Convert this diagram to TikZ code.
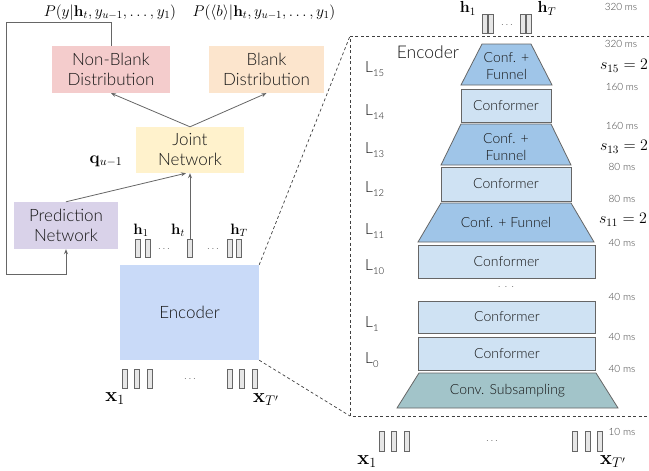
\RequirePackage{fix-cm}
\documentclass[tikz,border=0pt]{standalone}
\usepackage[no-math]{fontspec}
\setmainfont{Lato}[UprightFont=* Light]
\usetikzlibrary{arrows.meta, positioning, calc}
\definecolor{nonblankred}{HTML}{F4CCCC}
\definecolor{blankorange}{HTML}{FCE5CD}
\definecolor{jointyellow}{HTML}{FFF2CC}
\definecolor{predpurple}{HTML}{D9D2E9}
\definecolor{encblue}{HTML}{C9DAF8}
\definecolor{confblue}{HTML}{CFE2F3}
\definecolor{funnelblue}{HTML}{9FC5E8}
\definecolor{convteal}{HTML}{A2C4C9}
\definecolor{dark}{HTML}{151515}
\definecolor{edge}{HTML}{666666}
\definecolor{vecfill}{HTML}{E6E6E6}
\definecolor{mstext}{HTML}{3F3F3F}
% layer name with a lowered index, e.g. L_15
\newcommand{\layer}[1]{L\raisebox{-0.55ex}{\fontsize{9.5}{9.5}\selectfont #1}}

\begin{document}
\begin{tikzpicture}[
  x=1pt, y=-1pt,                               % one unit = one pixel, y grows downwards
  block/.style={rectangle, inner sep=0pt, text=dark, align=center,
                font=\fontsize{17}{20}\selectfont},
  conformer/.style={rectangle, draw=edge, line width=0.8pt, fill=confblue,
                    inner sep=0pt, text=dark, font=\fontsize{14}{16}\selectfont},
  funnel/.style={draw=edge, line width=0.8pt, fill=funnelblue},
  subsample/.style={draw=edge, line width=0.8pt, fill=convteal},
  blocktext/.style={inner sep=0pt, text=dark, align=center,
                    font=\fontsize{14}{16.5}\selectfont},
  vec/.style={rectangle, draw=edge, line width=0.6pt, fill=vecfill, inner sep=0pt,
              minimum width=5pt, minimum height=18pt},
  flow/.style={-{Stealth[length=5pt, width=4pt]}, draw=edge, line width=0.8pt},
  zoomline/.style={draw=black!75, line width=0.7pt, dash pattern=on 3pt off 2.5pt},
  mslabel/.style={text=mstext, inner sep=0pt, font=\fontsize{10}{12}\selectfont},
  layerlabel/.style={anchor=base west, text=dark, inner sep=0pt,
                     font=\fontsize{15.5}{18}\selectfont},
  mathlabel/.style={inner sep=0pt, font=\fontsize{15}{17}\selectfont},
  dotlabel/.style={inner sep=0pt, text=edge, font=\fontsize{10}{12}\selectfont}
]
  \useasboundingbox (0,0) rectangle (649,471);

  % --- transducer: output distributions, joint and prediction networks ---
  \node[block, fill=nonblankred, minimum width=118pt, minimum height=47pt] (nonblank)
    at (111,69.5) {Non-Blank\\Distribution};
  \node[block, fill=blankorange, minimum width=115pt, minimum height=47pt] (blank)
    at (266.5,69.5) {Blank\\Distribution};
  \node[block, fill=jointyellow, minimum width=108pt, minimum height=46pt] (joint)
    at (190,150) {Joint\\Network};
  \node[block, fill=predpurple, minimum width=104pt, minimum height=47pt] (pred)
    at (66,225.5) {Prediction\\Network};
  \node[block, fill=encblue, minimum width=139pt, minimum height=95pt] (encoder)
    at (189.5,312.5) {Encoder};

  \node[mathlabel, font=\fontsize{15.5}{18}\selectfont] (pnonblank) at (110,12.5)
    {$P(y|\mathbf{h}_t, y_{u-1}, \ldots, y_1)$};
  \node[mathlabel, font=\fontsize{15.5}{18}\selectfont] (pblank) at (264,12.5)
    {$P(\langle b\rangle|\mathbf{h}_t, y_{u-1}, \ldots, y_1)$};
  \node[mathlabel, font=\fontsize{17}{19}\selectfont] (qlabel) at (106,161) {$\mathbf{q}_{u-1}$};

  % encoder outputs h_1 .. h_T
  \node[vec] (h1a) at (137.5,248) {};
  \node[vec] (h1b) at (147.5,248) {};
  \node[vec] (ht)  at (190,248) {};
  \node[vec] (hTa) at (229.5,248) {};
  \node[vec] (hTb) at (238.5,248) {};
  \node[dotlabel] (hdotsl) at (164,249) {$\cdots$};
  \node[dotlabel] (hdotsr) at (213,249) {$\cdots$};
  \node[mathlabel] (h1lab) at (141,230) {$\mathbf{h}_1$};
  \node[mathlabel] (htlab) at (178,230) {$\mathbf{h}_t$};
  \node[mathlabel] (hTlab) at (239,230) {$\mathbf{h}_T$};

  % acoustic frames x_1 .. x_T'
  \node[vec, minimum height=19pt] (x1a) at (125,378.5) {};
  \node[vec, minimum height=19pt] (x1b) at (137,378.5) {};
  \node[vec, minimum height=19pt] (x1c) at (149.5,378.5) {};
  \node[vec, minimum height=19pt] (xTa) at (229.5,378.5) {};
  \node[vec, minimum height=19pt] (xTb) at (241.5,378.5) {};
  \node[vec, minimum height=19pt] (xTc) at (254.5,378.5) {};
  \node[dotlabel] (xdots) at (190,379) {$\cdots$};
  \node[mathlabel, font=\fontsize{20}{22}\selectfont] (x1lab) at (115,399) {$\mathbf{x}_1$};
  \node[mathlabel, font=\fontsize{20}{22}\selectfont] (xTlab) at (266,400) {$\mathbf{x}_{T'}$};

  % --- edges ---
  \draw[flow] (joint.north) -- (nonblank.south);
  \draw[flow] (joint.north) -- (blank.south);
  \draw[flow] (pred.north) -- ([xshift=-4pt]joint.south);
  \draw[flow] (ht.north) -- (joint.south);
  \coordinate (fbtop) at (6,22);
  \coordinate (fbbot) at (6,274);
  \draw[flow] (nonblank.north) |- (fbtop) -- (fbbot) -| (pred.south);

  % --- zoomed-in encoder stack ---
  \coordinate (boxnw) at (350,36);
  \coordinate (boxsw) at (350,416);
  \draw[zoomline] (655,36) -- (boxnw) -- (boxsw) -- (655,416);
  \draw[zoomline] (encoder.north east) -- (boxnw);
  \draw[zoomline] (encoder.south east) -- (boxsw);

  \node[text=dark, inner sep=0pt, font=\fontsize{17.5}{20}\selectfont] (enctitle) at (428,52) {Encoder};

  \draw[funnel] (482,44) -- (531,44) -- (552,85) -- (461,85) -- cycle;
  \node[blocktext] (l15) at (506.5,66) {Conf. +\\Funnel};
  \node[conformer, minimum width=90pt, minimum height=33pt] (l14) at (506,105.5) {Conformer};
  \draw[funnel] (461,124) -- (551,124) -- (571,165) -- (441,165) -- cycle;
  \node[blocktext] (l13) at (506,147) {Conf. +\\Funnel};
  \node[conformer, minimum width=130pt, minimum height=34pt] (l12) at (506,184) {Conformer};
  \draw[funnel] (441,203) -- (571,203) -- (594,242) -- (418,242) -- cycle;
  \node[blocktext] (l11) at (506,222.5) {Conf. + Funnel};
  \node[conformer, minimum width=177pt, minimum height=33pt] (l10) at (506.5,261.5) {Conformer};
  \node[dotlabel] (ldots) at (506,287) {$\cdot\,\cdot\,\cdot$};
  \node[conformer, minimum width=177pt, minimum height=32pt] (l1) at (507,317) {Conformer};
  \node[conformer, minimum width=177pt, minimum height=33pt] (l0) at (507,353.5) {Conformer};
  \draw[subsample] (419,373) -- (596,373) -- (618,408) -- (397,408) -- cycle;
  \node[blocktext] (conv) at (507.5,390.5) {Conv. Subsampling};

  % layer names
  \node[layerlabel] (n15) at (365,72)  {\layer{15}};
  \node[layerlabel] (n14) at (365,115) {\layer{14}};
  \node[layerlabel] (n13) at (365,153) {\layer{13}};
  \node[layerlabel] (n12) at (365,192) {\layer{12}};
  \node[layerlabel] (n11) at (365,234) {\layer{11}};
  \node[layerlabel] (n10) at (365,270) {\layer{10}};
  \node[layerlabel] (n1)  at (365,327) {\layer{1}};
  \node[layerlabel] (n0)  at (365,363) {\layer{0}};

  % frame rates and funnel strides
  \node[mslabel] (ms15o) at (621,6.5) {320 ms};
  \node[mslabel] (ms15i) at (621,44)  {320 ms};
  \node[mslabel] (ms14)  at (622,87)  {160 ms};
  \node[mslabel] (ms13)  at (622,126) {160 ms};
  \node[mslabel] (ms12)  at (622,167) {80 ms};
  \node[mslabel] (ms11)  at (622,199) {80 ms};
  \node[mslabel] (ms10)  at (622,243) {40 ms};
  \node[mslabel] (ms2)   at (622,297) {40 ms};
  \node[mslabel] (ms1)   at (622,337) {40 ms};
  \node[mslabel] (ms0)   at (622,369) {40 ms};
  \node[mslabel] (msin)  at (622,432) {10 ms};
  \node[mathlabel, font=\fontsize{16}{18}\selectfont] (s15) at (624,66)  {$s_{15} = 2$};
  \node[mathlabel, font=\fontsize{16}{18}\selectfont] (s13) at (624,147) {$s_{13} = 2$};
  \node[mathlabel, font=\fontsize{16}{18}\selectfont] (s11) at (623,220) {$s_{11} = 2$};

  % stack outputs on top
  \node[vec, minimum height=19pt] (th1a) at (485,23.5) {};
  \node[vec, minimum height=19pt] (th1b) at (490.5,23.5) {};
  \node[vec, minimum height=19pt] (thTa) at (523,23.5) {};
  \node[vec, minimum height=19pt] (thTb) at (528.5,23.5) {};
  \node[dotlabel] (thdots) at (507,25) {$\cdots$};
  \node[mathlabel, font=\fontsize{16}{18}\selectfont] (th1lab) at (468,8.5) {$\mathbf{h}_1$};
  \node[mathlabel, font=\fontsize{16}{18}\selectfont] (thTlab) at (547,8.5) {$\mathbf{h}_T$};

  % stack inputs below
  \node[vec, minimum height=20pt] (bx1a) at (381.5,441) {};
  \node[vec, minimum height=20pt] (bx1b) at (394,441) {};
  \node[vec, minimum height=20pt] (bx1c) at (406.5,441) {};
  \node[vec, minimum height=20pt] (bxTa) at (575,441) {};
  \node[vec, minimum height=20pt] (bxTb) at (587.5,441) {};
  \node[vec, minimum height=20pt] (bxTc) at (599.5,441) {};
  \node[dotlabel] (bxdots) at (492,441) {$\cdots$};
  \node[mathlabel, font=\fontsize{20}{22}\selectfont] (bx1lab) at (367,462) {$\mathbf{x}_1$};
  \node[mathlabel, font=\fontsize{20}{22}\selectfont] (bxTlab) at (613,462) {$\mathbf{x}_{T'}$};

\end{tikzpicture}
\end{document}
